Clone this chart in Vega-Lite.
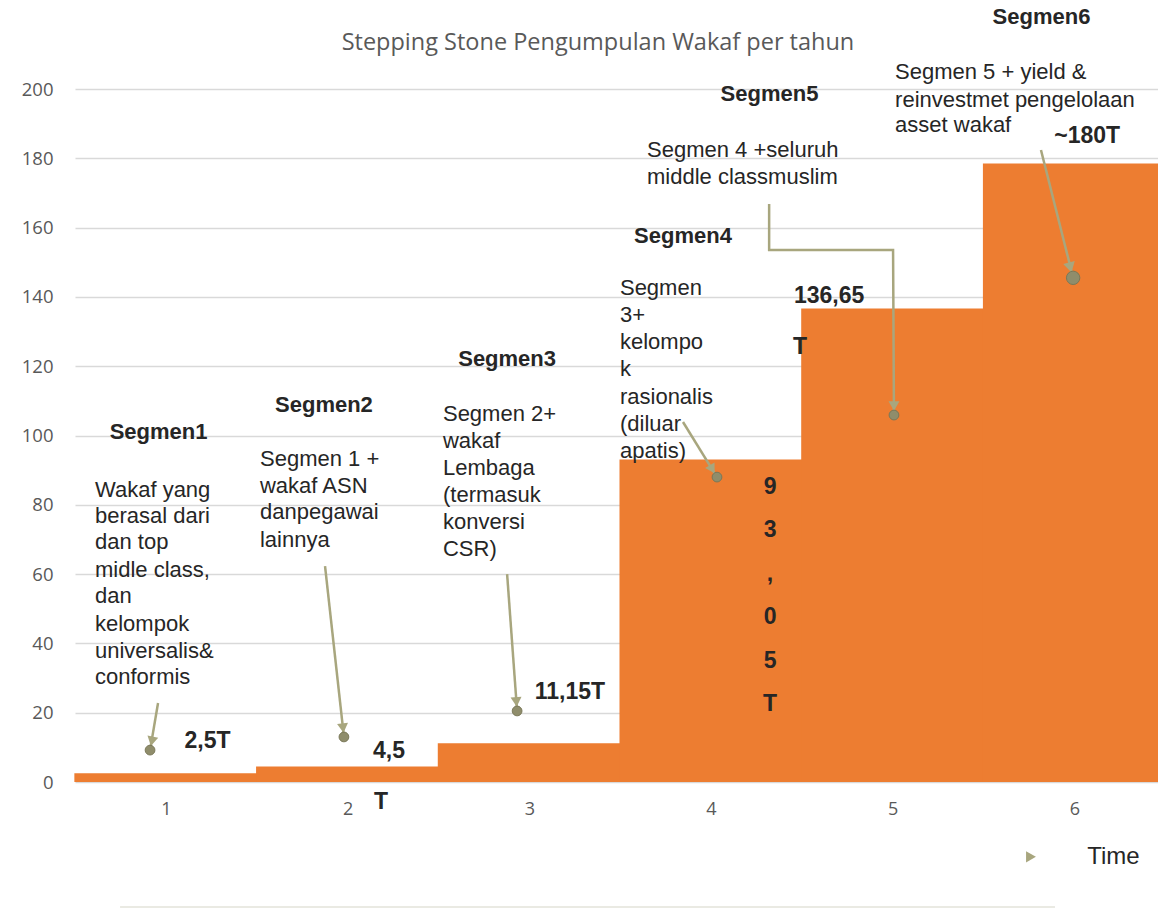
{
  "$schema": "https://vega.github.io/schema/vega-lite/v6.json",
  "autosize": "none",
  "width": 1083,
  "height": 693,
  "padding": {"left": 75, "top": 89, "right": 0, "bottom": 126},
  "background": "white",
  "config": {"view": {"stroke": null}},
  "datasets": {
    "bars": [
      {"t": 1, "v": 2.5}, {"t": 2, "v": 4.5}, {"t": 3, "v": 11.15},
      {"t": 4, "v": 93.05}, {"t": 5, "v": 136.65}, {"t": 6, "v": 178.5}
    ],
    "chartTitle": [{"x": 3.378, "y": 213.3, "text": "Stepping Stone Pengumpulan Wakaf per tahun"}],
    "segTitles": [
      {"x": 0.96, "y": 101, "text": "Segmen1"},
      {"x": 1.87, "y": 108.8, "text": "Segmen2"},
      {"x": 2.878, "y": 122.1, "text": "Segmen3"},
      {"x": 3.846, "y": 157.6, "text": "Segmen4"},
      {"x": 4.322, "y": 198.6, "text": "Segmen5"},
      {"x": 5.819, "y": 220.8, "text": "Segmen6"}
    ],
    "body": [
      {"x": 0.61, "y": 84.3, "text": "Wakaf yang"},
      {"x": 0.61, "y": 76.8, "text": "berasal dari"},
      {"x": 0.61, "y": 69.3, "text": "dan top"},
      {"x": 0.61, "y": 61.3, "text": "midle class,"},
      {"x": 0.61, "y": 53.7, "text": "dan"},
      {"x": 0.61, "y": 45.6, "text": "kelompok"},
      {"x": 0.61, "y": 37.8, "text": "universalis&"},
      {"x": 0.61, "y": 30.3, "text": "conformis"},
      {"x": 1.518, "y": 93.2, "text": "Segmen 1 +"},
      {"x": 1.518, "y": 85.4, "text": "wakaf ASN"},
      {"x": 1.518, "y": 77.9, "text": "danpegawai"},
      {"x": 1.518, "y": 69.8, "text": "lainnya"},
      {"x": 2.525, "y": 106.2, "text": "Segmen 2+"},
      {"x": 2.525, "y": 98.4, "text": "wakaf"},
      {"x": 2.525, "y": 90.6, "text": "Lembaga"},
      {"x": 2.525, "y": 82.8, "text": "(termasuk"},
      {"x": 2.525, "y": 75.0, "text": "konversi"},
      {"x": 2.525, "y": 67.2, "text": "CSR)"},
      {"x": 3.499, "y": 142.6, "text": "Segmen"},
      {"x": 3.499, "y": 134.8, "text": "3+"},
      {"x": 3.499, "y": 127.0, "text": "kelompo"},
      {"x": 3.499, "y": 119.2, "text": "k"},
      {"x": 3.499, "y": 111.1, "text": "rasionalis"},
      {"x": 3.499, "y": 103.3, "text": "(diluar"},
      {"x": 3.499, "y": 95.5, "text": "apatis)"},
      {"x": 3.648, "y": 182.4, "text": "Segmen 4 +seluruh"},
      {"x": 3.648, "y": 174.6, "text": "middle classmuslim"},
      {"x": 5.013, "y": 204.9, "text": "Segmen 5 + yield &"},
      {"x": 5.013, "y": 196.8, "text": "reinvestmet pengelolaan"},
      {"x": 5.013, "y": 189.6, "text": "asset wakaf"}
    ],
    "values": [
      {"x": 1.229, "y": 11.8, "text": "2,5T"},
      {"x": 2.228, "y": 8.9, "text": "4,5"},
      {"x": 2.184, "y": -5.8, "text": "T"},
      {"x": 3.224, "y": 26.0, "text": "11,15T"},
      {"x": 4.325, "y": 85.1, "text": "9"},
      {"x": 4.325, "y": 72.6, "text": "3"},
      {"x": 4.325, "y": 60.0, "text": ","},
      {"x": 4.325, "y": 47.5, "text": "0"},
      {"x": 4.325, "y": 34.9, "text": "5"},
      {"x": 4.325, "y": 22.4, "text": "T"},
      {"x": 4.65, "y": 140.3, "text": "136,65"},
      {"x": 4.49, "y": 125.5, "text": "T"},
      {"x": 6.07, "y": 186.4, "text": "~180T"}
    ],
    "arrows": [
      {"id": 1, "o": 1, "x": 0.957, "y": 22.8}, {"id": 1, "o": 2, "x": 0.913, "y": 9.2},
      {"id": 2, "o": 1, "x": 1.876, "y": 62.3}, {"id": 2, "o": 2, "x": 1.98, "y": 13.0},
      {"id": 3, "o": 1, "x": 2.878, "y": 60.0}, {"id": 3, "o": 2, "x": 2.933, "y": 20.5},
      {"id": 4, "o": 1, "x": 3.846, "y": 103.9}, {"id": 4, "o": 2, "x": 4.033, "y": 88.0},
      {"id": 5, "o": 1, "x": 4.32, "y": 166.8}, {"id": 5, "o": 2, "x": 4.32, "y": 153.5},
      {"id": 5, "o": 3, "x": 5.002, "y": 153.5}, {"id": 5, "o": 4, "x": 5.007, "y": 105.9},
      {"id": 6, "o": 1, "x": 5.816, "y": 182.4}, {"id": 6, "o": 2, "x": 5.993, "y": 145.5}
    ],
    "heads": [
      {"id": 1, "x": 0.923, "y": 11.75}, {"id": 2, "x": 1.975, "y": 15.56},
      {"id": 3, "x": 2.929, "y": 23.1}, {"id": 4, "x": 4.007, "y": 90.25},
      {"id": 5, "x": 5.007, "y": 108.5}, {"id": 6, "x": 5.977, "y": 148.5}
    ],
    "ends": [
      {"id": 1, "x": 0.913, "y": 9.2}, {"id": 2, "x": 1.98, "y": 13.0},
      {"id": 3, "x": 2.933, "y": 20.5}, {"id": 4, "x": 4.033, "y": 88.0},
      {"id": 5, "x": 5.007, "y": 105.9}, {"id": 6, "x": 5.993, "y": 145.5}
    ],
    "legend": [{"x": 5.761, "y": -21.6, "label": "Time", "lx": 6.07}],
    "bottomLine": [{"x": 0.748, "x2": 5.893, "y": -36.1}]
  },
  "encoding": {
    "x": {"field": "x", "type": "quantitative", "scale": {"domain": [0.5, 6.46], "nice": false, "zero": false, "padding": 0},
      "axis": {"values": [1, 2, 3, 4, 5, 6], "grid": false, "ticks": false, "domain": false, "labelPadding": 18, "labelFontSize": 18, "labelColor": "#595959", "labelFont": "Open Sans", "title": null}},
    "y": {"field": "y", "type": "quantitative", "scale": {"domain": [0, 200], "nice": false, "zero": false, "padding": 0},
      "axis": {"values": [0, 20, 40, 60, 80, 100, 120, 140, 160, 180, 200], "grid": true, "gridColor": "#D9D9D9", "gridWidth": 1.5, "ticks": false, "domain": false, "labelPadding": 22, "labelFontSize": 18.5, "labelColor": "#595959", "labelFont": "Open Sans", "title": null}}
  },
  "layer": [
    {
      "data": {"name": "bars"},
      "mark": {"type": "bar", "width": 183, "color": "#ED7D31"},
      "encoding": {
        "x": {"field": "t", "type": "quantitative"},
        "y": {"field": "v", "type": "quantitative"}
      }
    },
    {
      "data": {"name": "arrows"},
      "mark": {"type": "line", "color": "#A8A67E", "strokeWidth": 2.5},
      "encoding": {
        "detail": {"field": "id"},
        "order": {"field": "o"}
      }
    },
    {"data": {"name": "heads"}, "transform": [{"filter": "datum.id == 1"}], "mark": {"type": "point", "shape": "triangle-down", "angle": 12, "filled": true, "color": "#A8A67E", "size": 120, "opacity": 1}, "encoding": {}},
    {"data": {"name": "heads"}, "transform": [{"filter": "datum.id == 2"}], "mark": {"type": "point", "shape": "triangle-down", "angle": -6, "filled": true, "color": "#A8A67E", "size": 120, "opacity": 1}, "encoding": {}},
    {"data": {"name": "heads"}, "transform": [{"filter": "datum.id == 3"}], "mark": {"type": "point", "shape": "triangle-down", "angle": -4, "filled": true, "color": "#A8A67E", "size": 120, "opacity": 1}, "encoding": {}},
    {"data": {"name": "heads"}, "transform": [{"filter": "datum.id == 4"}], "mark": {"type": "point", "shape": "triangle-down", "angle": -31, "filled": true, "color": "#A8A67E", "size": 120, "opacity": 1}, "encoding": {}},
    {"data": {"name": "heads"}, "transform": [{"filter": "datum.id == 5"}], "mark": {"type": "point", "shape": "triangle-down", "angle": 0, "filled": true, "color": "#A8A67E", "size": 120, "opacity": 1}, "encoding": {}},
    {"data": {"name": "heads"}, "transform": [{"filter": "datum.id == 6"}], "mark": {"type": "point", "shape": "triangle-down", "angle": -14, "filled": true, "color": "#A8A67E", "size": 140, "opacity": 1}, "encoding": {}},
    {
      "data": {"name": "ends"},
      "transform": [{"filter": "datum.id < 6"}],
      "mark": {"type": "point", "filled": true, "fill": "#8F8D6B", "stroke": "#7A7858", "strokeWidth": 1, "size": 95, "opacity": 1},
      "encoding": {}
    },
    {
      "data": {"name": "ends"},
      "transform": [{"filter": "datum.id == 6"}],
      "mark": {"type": "point", "filled": true, "fill": "#8F8D6B", "stroke": "#7A7858", "strokeWidth": 1, "size": 180, "opacity": 1},
      "encoding": {}
    },
    {
      "data": {"name": "chartTitle"},
      "mark": {"type": "text", "font": "Open Sans", "fontSize": 23.5, "color": "#595959", "align": "center", "baseline": "middle"},
      "encoding": {"text": {"field": "text"}}
    },
    {
      "data": {"name": "segTitles"},
      "mark": {"type": "text", "font": "Liberation Sans", "fontSize": 22, "fontWeight": "bold", "color": "#262626", "align": "center", "baseline": "middle"},
      "encoding": {"text": {"field": "text"}}
    },
    {
      "data": {"name": "body"},
      "mark": {"type": "text", "font": "Liberation Sans", "fontSize": 22, "color": "#262626", "align": "left", "baseline": "middle"},
      "encoding": {"text": {"field": "text"}}
    },
    {
      "data": {"name": "values"},
      "mark": {"type": "text", "font": "Liberation Sans", "fontSize": 23, "fontWeight": "bold", "color": "#262626", "align": "center", "baseline": "middle"},
      "encoding": {"text": {"field": "text"}}
    },
    {
      "data": {"name": "legend"},
      "mark": {"type": "point", "shape": "triangle-right", "filled": true, "color": "#A8A67E", "size": 130, "opacity": 1},
      "encoding": {}
    },
    {
      "data": {"name": "legend"},
      "mark": {"type": "text", "font": "Liberation Sans", "fontSize": 24, "color": "#262626", "align": "left", "baseline": "middle"},
      "encoding": {
        "x": {"field": "lx", "type": "quantitative"},
        "text": {"field": "label"}
      }
    },
    {
      "data": {"name": "bottomLine"},
      "mark": {"type": "rule", "color": "#E3E3DA", "strokeWidth": 1.5},
      "encoding": {
        "x2": {"field": "x2"}
      }
    }
  ]
}
